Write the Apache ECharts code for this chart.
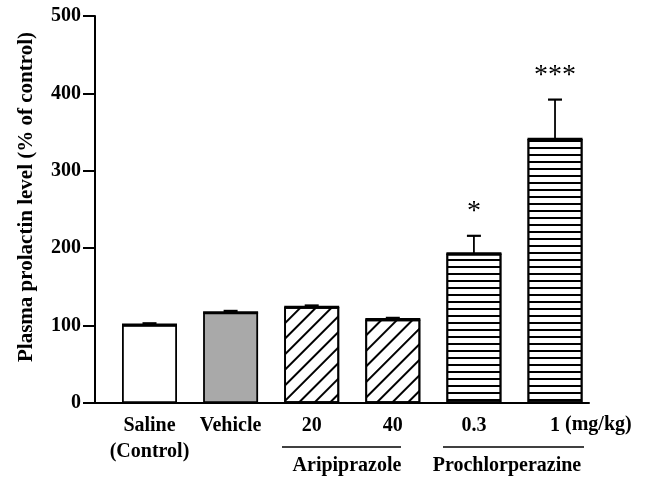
<!DOCTYPE html>
<html>
<head>
<meta charset="utf-8">
<script src="https://cdn.jsdelivr.net/npm/echarts@6/dist/echarts.min.js"></script>
<style>html,body{margin:0;padding:0;background:#fff}#c{width:646px;height:477px}</style>
</head>
<body>
<div id="c"></div>
<script>
// ---- data ----
const categories = ['Saline\n(Control)', 'Vehicle', '20', '40', '0.3', '1'];
const means = [101, 117, 124, 108, 193, 341];
const errors = [2, 2, 2, 2, 23, 51];
const significance = ['', '', '', '', '*', '***'];
const yTicks = [0, 100, 200, 300, 400, 500];
const groups = ['Aripiprazole', 'Prochlorperazine'];
const unitLabel = '(mg/kg)';

// ---- styles ----
const FONT = '"Liberation Serif", "Times New Roman", serif';
const hatchDiag = {
  symbol: 'rect', symbolSize: 1, dashArrayX: [1, 0], dashArrayY: [1.4, 8.2],
  rotation: -Math.PI / 4, color: '#000', backgroundColor: 'rgba(0,0,0,0)'
};
const hatchHoriz = {
  symbol: 'rect', symbolSize: 1, dashArrayX: [1, 0], dashArrayY: [2, 5],
  rotation: 0, color: '#000', backgroundColor: 'rgba(0,0,0,0)'
};
const barStyles = [
  { color: '#ffffff' },
  { color: '#a9a9a9' },
  { color: '#ffffff', decal: hatchDiag },
  { color: '#ffffff', decal: hatchDiag },
  { color: '#ffffff', decal: hatchHoriz },
  { color: '#ffffff', decal: hatchHoriz }
];
const BAR_W = 55;

const barData = means.map((m, i) => ({
  value: [i, m],
  itemStyle: Object.assign({ borderColor: '#000', borderWidth: 1.8 }, barStyles[i])
}));
const errData = means.map((m, i) => [i, m, errors[i]]);

const chart = echarts.init(document.getElementById('c'), null, { renderer: 'canvas' });
chart.setOption({
  animation: false,
  backgroundColor: '#fff',
  grid: { left: 95, right: 57, top: 16, bottom: 74 },
  xAxis: {
    type: 'value', min: -0.672, max: 5.419,
    splitLine: { show: false },
    axisLine: { show: true, onZero: true, lineStyle: { color: '#000', width: 2 } },
    axisTick: { show: false },
    axisLabel: {
      customValues: [0, 1, 2, 3, 4, 5],
      formatter: v => categories[Math.round(v)],
      color: '#000', fontFamily: FONT, fontWeight: 'bold', fontSize: 20,
      lineHeight: 26, margin: 10, showMinLabel: true, showMaxLabel: true
    }
  },
  yAxis: {
    type: 'value', min: 0, max: 500, interval: 100,
    name: 'Plasma prolactin level (% of control)',
    nameLocation: 'middle', nameGap: 58,
    nameTextStyle: { color: '#000', fontFamily: FONT, fontWeight: 'bold', fontSize: 21, padding: [0, 0, 0, 25] },
    splitLine: { show: false },
    axisLine: { show: true, onZero: false, lineStyle: { color: '#000', width: 2 } },
    axisTick: { show: true, length: 12, lineStyle: { color: '#000', width: 2 } },
    axisLabel: {
      color: '#000', fontFamily: FONT, fontWeight: 'bold', fontSize: 20, margin: 14,
      formatter: v => yTicks.includes(v) ? String(v) : ''
    }
  },
  series: [
    {
      type: 'bar', barWidth: BAR_W, data: barData, z: 2
    },
    {
      type: 'custom', z: 5, data: errData,
      renderItem: (params, api) => {
        const x = api.value(0), m = api.value(1), e = api.value(2);
        const base = api.coord([x, m]);
        const top = api.coord([x, m + e]);
        const children = [
          { type: 'line', shape: { x1: base[0] - BAR_W / 2, y1: base[1], x2: base[0] + BAR_W / 2, y2: base[1] },
            style: { stroke: '#000', lineWidth: 2.6 } },
          { type: 'line', shape: { x1: top[0], y1: base[1], x2: top[0], y2: top[1] },
            style: { stroke: '#000', lineWidth: 1.8 } },
          { type: 'line', shape: { x1: top[0] - 7, y1: top[1], x2: top[0] + 7, y2: top[1] },
            style: { stroke: '#000', lineWidth: 2.2 } }
        ];
        const s = significance[params.dataIndex];
        if (s) {
          children.push({ type: 'text', style: {
            text: s, x: top[0], y: top[1] - 24, align: 'center', verticalAlign: 'middle',
            font: 'normal 28px ' + FONT, fill: '#000' } });
        }
        return { type: 'group', children };
      }
    }
  ],
  graphic: [
    { type: 'line', shape: { x1: 282, y1: 447, x2: 401, y2: 447 }, style: { stroke: '#000', lineWidth: 1.6 } },
    { type: 'line', shape: { x1: 443, y1: 447, x2: 584, y2: 447 }, style: { stroke: '#000', lineWidth: 1.6 } },
    { type: 'text', x: 347, y: 466, style: { text: groups[0], align: 'center', verticalAlign: 'middle',
      font: 'bold 20px ' + FONT, fill: '#000' } },
    { type: 'text', x: 507, y: 466, style: { text: groups[1], align: 'center', verticalAlign: 'middle',
      font: 'bold 20px ' + FONT, fill: '#000' } },
    { type: 'text', x: 565, y: 425, style: { text: unitLabel, align: 'left', verticalAlign: 'middle',
      font: 'bold 20px ' + FONT, fill: '#000' } }
  ]
});
</script>
</body>
</html>
